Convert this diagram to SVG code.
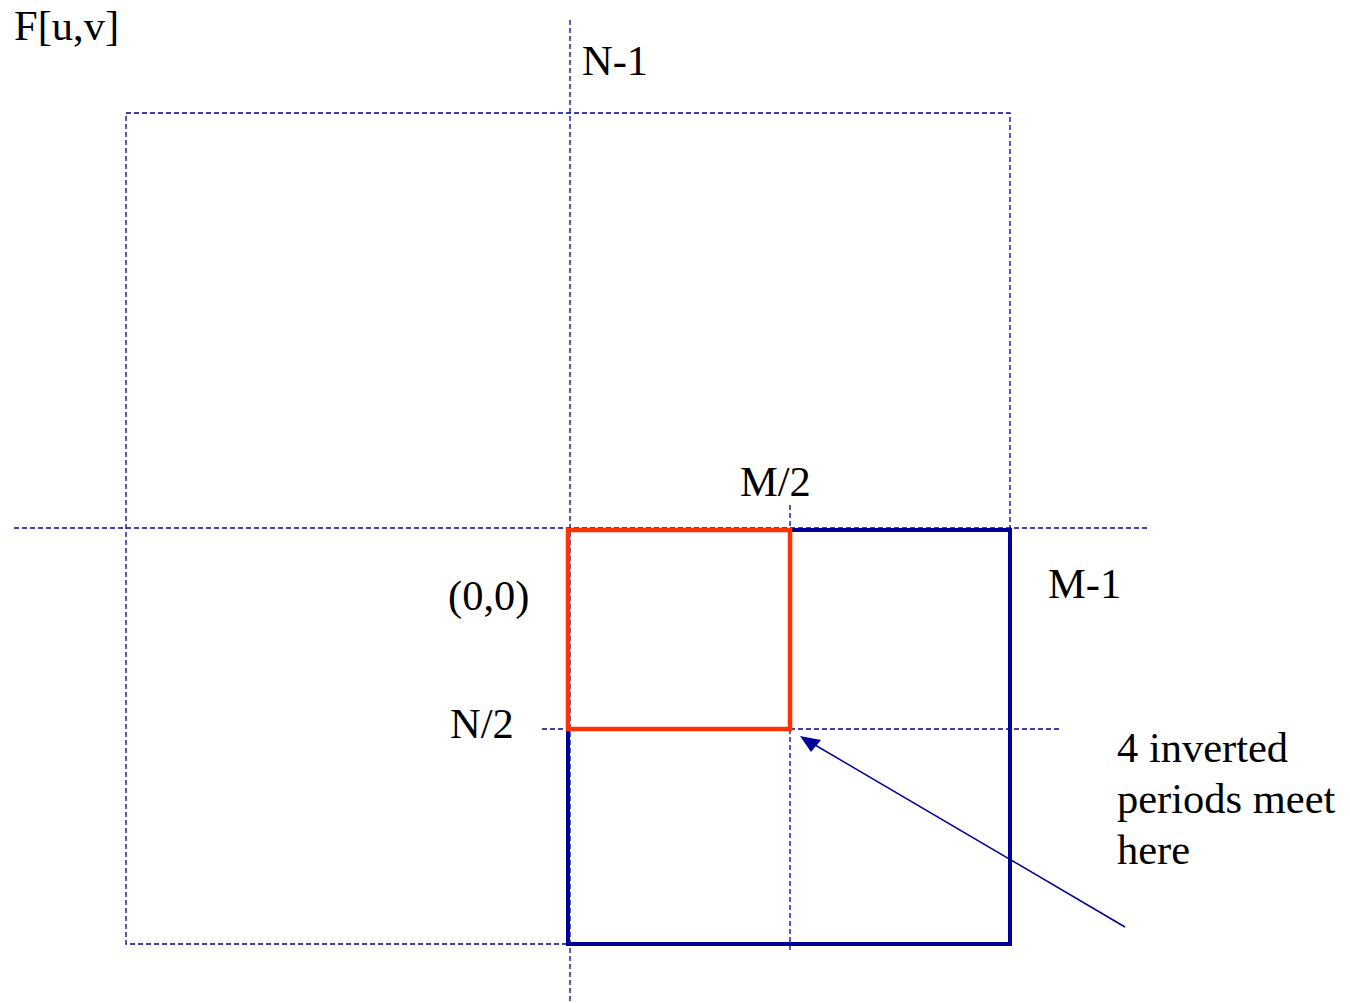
<svg xmlns="http://www.w3.org/2000/svg" width="1350" height="1003" viewBox="0 0 1350 1003">
<style>
.t{font-family:"Liberation Serif","Times New Roman",serif;font-size:42.5px;fill:#000}
.d{fill:none;stroke:#00009A;stroke-width:1.3;stroke-dasharray:5 3}
</style>
<rect width="1350" height="1003" fill="#fff"/>
<g id="grid">
<polyline class="d" points="567,944 126,944 126,113 1010,113 1010,528"/>
<line class="d" x1="570" y1="20" x2="570" y2="1003"/>
<line class="d" x1="14" y1="528" x2="1150" y2="528"/>
<line class="d" x1="790" y1="505" x2="790" y2="952"/>
<line class="d" x1="542" y1="729" x2="1062" y2="729"/>
</g>
<g id="period-box">
<rect x="568" y="530" width="442" height="414" fill="none" stroke="#00009A" stroke-width="4"/>
</g>
<g id="shifted-box">
<rect x="568" y="530" width="222" height="199" fill="none" stroke="#FF3300" stroke-width="4.5"/>
</g>
<g id="connectors">
<line x1="1125" y1="927" x2="810" y2="742" stroke="#00009A" stroke-width="1.5"/>
<path d="M800,736 L821,740 L811,752 z" fill="#00009A"/>
</g>
<g id="labels">
<text class="t" x="14" y="40">F[u,v]</text>
<text class="t" x="582" y="75">N-1</text>
<text class="t" x="740" y="496">M/2</text>
<text class="t" x="1048" y="598">M-1</text>
<text class="t" x="448" y="610">(0,0)</text>
<text class="t" x="450" y="738">N/2</text>
<text class="t" x="1117" y="762">4 inverted</text>
<text class="t" x="1117" y="813">periods meet</text>
<text class="t" x="1117" y="864">here</text>
</g>
</svg>
